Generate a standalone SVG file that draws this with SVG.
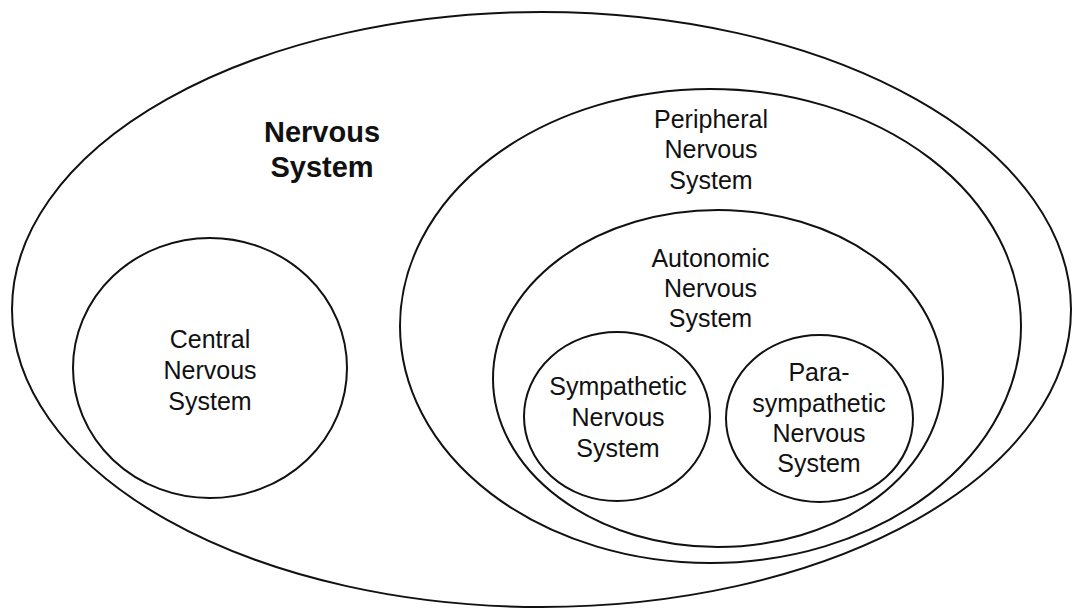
<svg xmlns="http://www.w3.org/2000/svg" width="1073" height="610" viewBox="0 0 1073 610">
  <style>
    .ring { fill: none; stroke: #111; stroke-width: 2; }
    .lbl { font-family: "Liberation Sans", Arial, sans-serif; font-size: 25px; fill: #111; text-anchor: middle; }
    .title { font-family: "Liberation Sans", Arial, sans-serif; font-size: 29px; font-weight: bold; fill: #111; text-anchor: middle; }
  </style>
  <rect width="1073" height="610" fill="#fff"/>

  <!-- Whole nervous system -->
  <g id="nervous-system">
    <ellipse class="ring" cx="541.5" cy="309.5" rx="529.5" ry="297.5"/>
    <text class="title" x="322" y="142">Nervous</text>
    <text class="title" x="322" y="177">System</text>
  </g>

  <!-- Central nervous system -->
  <g id="central">
    <ellipse class="ring" cx="210" cy="368" rx="137" ry="130"/>
    <text class="lbl" x="210" y="348">Central</text>
    <text class="lbl" x="210" y="379">Nervous</text>
    <text class="lbl" x="210" y="410">System</text>
  </g>

  <!-- Peripheral nervous system -->
  <g id="peripheral">
    <ellipse class="ring" cx="710.5" cy="326" rx="310.5" ry="237"/>
    <text class="lbl" x="711" y="128">Peripheral</text>
    <text class="lbl" x="711" y="158">Nervous</text>
    <text class="lbl" x="711" y="189">System</text>
  </g>

  <!-- Autonomic nervous system -->
  <g id="autonomic">
    <ellipse class="ring" cx="718" cy="378.5" rx="225" ry="168.5"/>
    <text class="lbl" x="710.5" y="267">Autonomic</text>
    <text class="lbl" x="710.5" y="297">Nervous</text>
    <text class="lbl" x="710.5" y="327">System</text>
  </g>

  <!-- Sympathetic nervous system -->
  <g id="sympathetic">
    <ellipse class="ring" cx="617" cy="416.5" rx="93" ry="84.5"/>
    <text class="lbl" x="618" y="395">Sympathetic</text>
    <text class="lbl" x="618" y="426">Nervous</text>
    <text class="lbl" x="618" y="457">System</text>
  </g>

  <!-- Parasympathetic nervous system -->
  <g id="parasympathetic">
    <ellipse class="ring" cx="819.5" cy="418.5" rx="93.5" ry="83.5"/>
    <text class="lbl" x="819" y="381">Para-</text>
    <text class="lbl" x="819" y="412">sympathetic</text>
    <text class="lbl" x="819" y="442">Nervous</text>
    <text class="lbl" x="819" y="472">System</text>
  </g>

  <!-- nested sets only; no connectors -->
  <g id="connectors"/>
</svg>
